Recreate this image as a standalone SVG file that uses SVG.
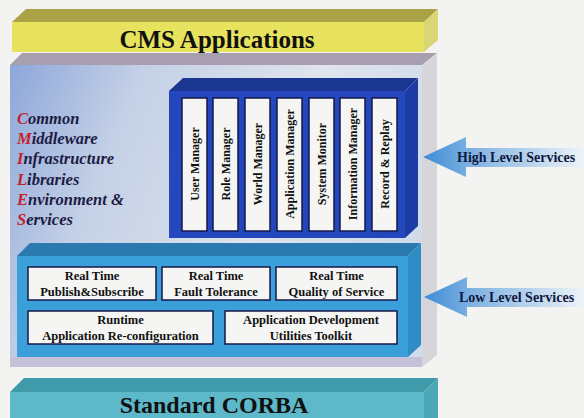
<svg xmlns="http://www.w3.org/2000/svg" width="584" height="418" viewBox="0 0 584 418">
<defs>
<linearGradient id="panelGrad" x1="0" y1="0" x2="1" y2="0.3">
<stop offset="0" stop-color="#8ea7da"/>
<stop offset="0.3" stop-color="#c4d0e6"/>
<stop offset="0.7" stop-color="#dfe4ed"/>
<stop offset="1" stop-color="#d2dbea"/>
</linearGradient>
<linearGradient id="arrowGrad" x1="0" y1="0" x2="1" y2="0">
<stop offset="0" stop-color="#3d8bd6"/>
<stop offset="0.3" stop-color="#7fb2e2"/>
<stop offset="1" stop-color="#eef3f8"/>
</linearGradient>
</defs>
<style>
text{font-family:'Liberation Serif','Times New Roman','DejaVu Serif',serif;font-weight:bold}
.box{fill:#f5f5f3;stroke:#15194a;stroke-width:1.5}
.vt{font-size:12px;fill:#111;text-anchor:middle}
.lt{font-size:12.5px;fill:#111;text-anchor:middle}
.big{font-size:25px;fill:#111;text-anchor:middle}
.side{font-size:14px;fill:#111a40}
.cm{font-style:italic;font-size:16.5px;fill:#1c1c44}
.red{fill:#c8202c}
</style>
<rect x="0" y="0" width="584" height="418" fill="#f3f3f1"/>

<g id="cms-applications">
<polygon points="12,22 26,9 438,9 424,22" fill="#a9a246"/>
<rect x="12" y="22" width="412" height="30" fill="#e7e35e"/>
<polygon points="424,22 438,9 438,40 424,52" fill="#d9d676"/>
<text class="big" x="217" y="48">CMS Applications</text>
</g>

<g id="cmiles-panel">
<polygon points="10,65 22,53 437,53 422,65" fill="#a79fb0"/>
<rect x="10" y="65" width="412" height="302" fill="url(#panelGrad)"/>
<rect x="10" y="357" width="412" height="10" fill="#c6c0d8"/>
<polygon points="422,65 437,53 437,355 422,367" fill="#d6d6da"/>
<text class="cm" x="17" y="124"><tspan class="red">C</tspan>ommon</text>
<text class="cm" x="17" y="144"><tspan class="red">M</tspan>iddleware</text>
<text class="cm" x="17" y="164"><tspan class="red">I</tspan>nfrastructure</text>
<text class="cm" x="17" y="185"><tspan class="red">L</tspan>ibraries</text>
<text class="cm" x="17" y="205"><tspan class="red">E</tspan>nvironment &amp;</text>
<text class="cm" x="17" y="225"><tspan class="red">S</tspan>ervices</text>
</g>

<g id="high-level-services">
<polygon points="169,91 183,78 418,78 405,91" fill="#1b3691"/>
<rect x="169" y="91" width="236" height="147" fill="#2447bd"/>
<polygon points="405,91 418,78 418,226 405,238" fill="#1e3ca6"/>
<rect class="box" x="182" y="98" width="25" height="133"/>
<rect class="box" x="213" y="98" width="25" height="133"/>
<rect class="box" x="245" y="98" width="25" height="133"/>
<rect class="box" x="277" y="98" width="25" height="133"/>
<rect class="box" x="309" y="98" width="25" height="133"/>
<rect class="box" x="340" y="98" width="25" height="133"/>
<rect class="box" x="372" y="98" width="25" height="133"/>
<text class="vt" transform="translate(194.5,164) rotate(-90)" dy="0.35em">User Manager</text>
<text class="vt" transform="translate(225.5,164) rotate(-90)" dy="0.35em">Role Manager</text>
<text class="vt" transform="translate(257.5,164) rotate(-90)" dy="0.35em">World Manager</text>
<text class="vt" transform="translate(289.5,164) rotate(-90)" dy="0.35em">Application Manager</text>
<text class="vt" transform="translate(321.5,164) rotate(-90)" dy="0.35em">System Monitor</text>
<text class="vt" transform="translate(352.5,164) rotate(-90)" dy="0.35em">Information Manager</text>
<text class="vt" transform="translate(384.5,164) rotate(-90)" dy="0.35em">Record &amp; Replay</text>
</g>

<g id="low-level-services">
<polygon points="17,256 30,243 421,243 408,256" fill="#2a7ab0"/>
<rect x="17" y="256" width="391" height="101" fill="#3ba0da"/>
<polygon points="408,256 421,243 421,345 408,357" fill="#2f8cc4"/>
<rect class="box" x="28" y="267" width="128" height="33"/>
<rect class="box" x="162" y="267" width="108" height="33"/>
<rect class="box" x="276" y="267" width="121" height="33"/>
<rect class="box" x="28" y="311" width="185" height="33"/>
<rect class="box" x="225" y="311" width="172" height="33"/>
<text class="lt" x="92" y="280">Real Time</text>
<text class="lt" x="92" y="296">Publish&amp;Subscribe</text>
<text class="lt" x="216" y="280">Real Time</text>
<text class="lt" x="216" y="296">Fault Tolerance</text>
<text class="lt" x="336.5" y="280">Real Time</text>
<text class="lt" x="336.5" y="296">Quality of Service</text>
<text class="lt" x="120.5" y="324">Runtime</text>
<text class="lt" x="120.5" y="340">Application Re-configuration</text>
<text class="lt" x="311" y="324">Application Development</text>
<text class="lt" x="311" y="340">Utilities Toolkit</text>
</g>

<g id="standard-corba">
<polygon points="10,392 24,378 438,378 424,392" fill="#3f9aaa"/>
<rect x="10" y="392" width="414" height="26" fill="#5db8ca"/>
<polygon points="424,392 438,378 438,418 424,418" fill="#4aa8b8"/>
<text class="big" x="214" y="413" style="font-size:24px">Standard CORBA</text>
</g>

<g id="connectors">
<polygon points="423,157 466,137 466,148 584,148 584,167 466,167 466,177" fill="url(#arrowGrad)"/>
<polygon points="424,297 467,277 467,288 584,288 584,307 467,307 467,317" fill="url(#arrowGrad)"/>
<text class="side" x="457" y="162">High Level Services</text>
<text class="side" x="459" y="302">Low Level Services</text>
</g>
</svg>
